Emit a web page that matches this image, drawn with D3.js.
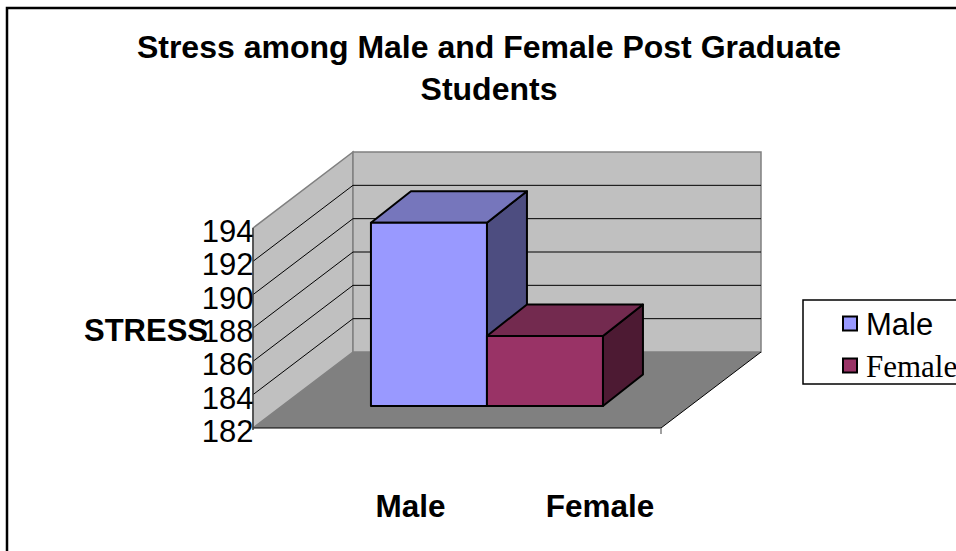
<!DOCTYPE html>
<html>
<head>
<meta charset="utf-8">
<script src="https://cdn.jsdelivr.net/npm/d3@7/dist/d3.min.js"></script>
<style>
  html, body { margin: 0; padding: 0; background: #fff; overflow: hidden; }
  svg { display: block; }
</style>
</head>
<body>
<svg width="956" height="551"></svg>
<script>
var titleLines = ["Stress among Male and Female Post Graduate", "Students"]
var yTicks = [182, 184, 186, 188, 190, 192, 194]
var series = ["Male", "Female"]
var values = [193, 186.2]
var fronts = ["#9999ff", "#993366"]
var tops = ["#7676bc", "#732a4f"]
var sides = ["#4d4d80", "#4d1a33"]

var svg = d3.select("svg")

// frame round the chart area
svg.append("path")
  .attr("d", "M7,551V8H956")
  .attr("fill", "none")
  .attr("stroke", "#000")
  .attr("stroke-width", 2.5)

var title = svg.append("g")
  .attr("font-family", "Liberation Sans")
  .attr("font-weight", "bold")
  .attr("font-size", 32)
  .attr("text-anchor", "middle")
titleLines.forEach(function(t, i){
  title.append("text").attr("x", 489).attr("y", 58 + i * 42).text(t)
})

// scales, the front plane of the box
var y = d3.scaleLinear().domain([182, 194]).range([428, 228])
var floorX = d3.scaleLinear().domain([0, 1]).range([253, 661])
var depth = {x: 100, y: -76}
var barDepth = {x: 40, y: -31.5}
var barBase = 22 / 76   // how far into the box the bars stand
var barX = d3.scaleBand().domain(series)
  .range([floorX(0.5) + barBase * depth.x - 115, floorX(0.5) + barBase * depth.x + 117])

function poly(points){
  return "M" + points.map(function(p){ return p[0] + "," + p[1] }).join("L") + "Z"
}

// walls
var x0 = floorX(0), x1 = floorX(1), yb = y(182), yt = y(194)
svg.append("path").attr("d", poly([[x0, yb], [x0 + depth.x, yb + depth.y], [x0 + depth.x, yt + depth.y], [x0, yt]]))
  .attr("fill", "#c0c0c0").attr("stroke", "#808080").attr("stroke-width", 1.5)
svg.append("path").attr("d", poly([[x0 + depth.x, yb + depth.y], [x1 + depth.x, yb + depth.y], [x1 + depth.x, yt + depth.y], [x0 + depth.x, yt + depth.y]]))
  .attr("fill", "#c0c0c0").attr("stroke", "#808080").attr("stroke-width", 1.5)
svg.append("path").attr("d", poly([[x0, yb], [x1, yb], [x1 + depth.x, yb + depth.y], [x0 + depth.x, yb + depth.y]]))
  .attr("fill", "#808080")

// gridlines
var inner = yTicks.filter(function(d){ return d > 182 && d < 194 })
svg.append("g").selectAll("path").data(inner).join("path")
  .attr("d", function(d){
    return "M" + x0 + "," + y(d) + "L" + (x0 + depth.x) + "," + (y(d) + depth.y) + "H" + (x1 + depth.x)
  })
  .attr("fill", "none").attr("stroke", "#000").attr("stroke-width", 1)

// front edge of floor and the axis
svg.append("path")
  .attr("d", "M" + x0 + "," + yb + "H" + x1 + "L" + (x1 + depth.x) + "," + (yb + depth.y))
  .attr("fill", "none").attr("stroke", "#000").attr("stroke-width", 1)
svg.append("path")
  .attr("d", "M" + x1 + "," + yb + "V" + (yb + 6))
  .attr("stroke", "#808080").attr("stroke-width", 1.5)
svg.append("path")
  .attr("d", "M" + x0 + "," + yt + "V" + (yb + 2))
  .attr("stroke", "#404040").attr("stroke-width", 1.5)

// bars
var bars = svg.append("g").selectAll("g").data(series).join("g")
  .attr("stroke", "#000").attr("stroke-width", 2).attr("stroke-linejoin", "round")
bars.each(function(name, i){
  var g = d3.select(this)
  var l = barX(name), r = l + barX.bandwidth()
  var b = y(182) + barBase * depth.y
  var t = y(values[i]) + barBase * depth.y
  g.append("path").attr("fill", sides[i])
    .attr("d", poly([[r, b], [r + barDepth.x, b + barDepth.y], [r + barDepth.x, t + barDepth.y], [r, t]]))
  g.append("path").attr("fill", tops[i])
    .attr("d", poly([[l, t], [r, t], [r + barDepth.x, t + barDepth.y], [l + barDepth.x, t + barDepth.y]]))
  g.append("path").attr("fill", fronts[i])
    .attr("d", poly([[l, b], [r, b], [r, t], [l, t]]))
})

// y tick labels
svg.append("g").selectAll("text").data(yTicks).join("text")
  .attr("x", x0 + 0.5)
  .attr("y", function(d){ return y(d) + 14 })
  .attr("text-anchor", "end")
  .attr("font-family", "Liberation Sans")
  .attr("font-size", 31)
  .attr("fill", "#000")
  .text(function(d){ return d })

// touches the 188 label in the reference too
svg.append("text")
  .attr("x", 84).attr("y", 341)
  .attr("font-family", "Liberation Sans")
  .attr("font-weight", "bold")
  .attr("font-size", 31)
  .text("STRESS")

// category labels
var labelX = [410.5, 600]
svg.append("g").selectAll("text").data(series).join("text")
  .attr("x", function(d, i){ return labelX[i] })
  .attr("y", 517)
  .attr("text-anchor", "middle")
  .attr("font-family", "Liberation Sans")
  .attr("font-weight", "bold")
  .attr("font-size", 31.5)
  .text(function(d){ return d })

// legend, runs off the right edge like the reference
svg.append("rect")
  .attr("x", 803).attr("y", 300).attr("width", 200).attr("height", 84)
  .attr("fill", "#fff").attr("stroke", "#000").attr("stroke-width", 1.5)
var legendFonts = ["Liberation Sans", "Liberation Serif"]
var legend = svg.append("g").selectAll("g").data(series).join("g")
  .attr("transform", function(d, i){ return "translate(843,"  + (323.5 + i * 42) + ")" })
legend.append("rect")
  .attr("x", 0).attr("y", -7).attr("width", 14).attr("height", 14)
  .attr("fill", function(d, i){ return fronts[i] })
  .attr("stroke", "#000").attr("stroke-width", 2)
legend.append("text")
  .attr("x", 23).attr("y", 11.5)
  .attr("font-family", function(d, i){ return legendFonts[i] })
  .attr("font-size", 31)
  .text(function(d){ return d })
</script>
</body>
</html>
